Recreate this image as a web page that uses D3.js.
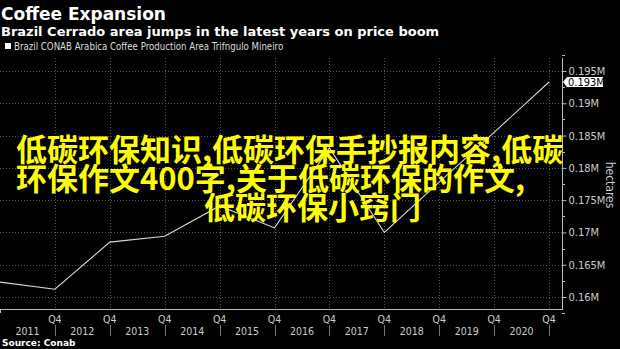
<!DOCTYPE html>
<html><head><meta charset="utf-8">
<script src="https://cdn.jsdelivr.net/npm/d3@7"></script>
<style>
html,body{margin:0;padding:0;background:#000;}
svg{display:block;}
.cond{font-family:"DejaVu Sans Condensed","DejaVu Sans",sans-serif;font-stretch:condensed;}
</style></head>
<body>
<script>
// ---- data ----
const years = [2010, 2011, 2012, 2013, 2014, 2015, 2016, 2017, 2018, 2019, 2020];
const areaValues = [0.1623, 0.1612, 0.1685, 0.1694, 0.1741, 0.1707, 0.1831, 0.1700, 0.1778, 0.1855, 0.1933];
const yTicks = [0.16, 0.165, 0.17, 0.175, 0.18, 0.185, 0.19, 0.195];
const yearLabels = [2011, 2012, 2013, 2014, 2015, 2016, 2017, 2018, 2019, 2020];
const lastLabel = "0.193M";
const title = "Coffee Expansion";
const subtitle = "Brazil Cerrado area jumps in the latest years on price boom";
const legendText = "Brazil CONAB Arabica Coffee Production Area Trifngulo Mineiro";
const source = "Source: Conab";
const overlayLines = ["低碳环保知识,低碳环保手抄报内容,低碳", "环保作文400字,关于低碳环保的作文,", "低碳环保小窍门"];

const W = 620, H = 349;
const plot = {left: 0, right: 562, top: 58, bottom: 309};

const svg = d3.select("body").append("svg").attr("width", W).attr("height", H);
svg.append("rect").attr("width", W).attr("height", H).attr("fill", "#000");

const x = d3.scaleLinear().domain([2010, 2020.236]).range([plot.left, plot.right]);
const y = d3.scaleLinear().domain([0.16, 0.195]).range([297, 71]);

// header
svg.append("text").attr("x", 1).attr("y", 20).text(title)
  .attr("fill", "#fff").attr("font-family", "DejaVu Sans").attr("font-weight", "bold").attr("font-size", 17);
svg.append("text").attr("x", 1).attr("y", 36).text(subtitle)
  .attr("fill", "#fff").attr("font-family", "DejaVu Sans").attr("font-weight", "bold").attr("font-size", 13);
svg.append("rect").attr("x", 5).attr("y", 43).attr("width", 6).attr("height", 6).attr("fill", "#fff");
svg.append("text").attr("class", "cond").attr("x", 14).attr("y", 49.5).text(legendText)
  .attr("fill", "#ddd").attr("font-size", 9.6);

// grid
const grid = svg.append("g");
grid.selectAll("line.h").data(yTicks).join("line")
  .attr("x1", plot.left).attr("x2", plot.right)
  .attr("y1", d => Math.round(y(d)) + 0.5).attr("y2", d => Math.round(y(d)) + 0.5)
  .attr("stroke", "#555").attr("stroke-dasharray", "1,2");
grid.selectAll("line.v").data(yearLabels).join("line")
  .attr("x1", d => Math.round(x(d)) + 0.5).attr("x2", d => Math.round(x(d)) + 0.5)
  .attr("y1", plot.top).attr("y2", plot.bottom)
  .attr("stroke", "#555").attr("stroke-dasharray", "1,2");

// line
svg.append("path")
  .datum(years.map((yr, i) => [yr, areaValues[i]]))
  .attr("d", d3.line().x(d => x(d[0])).y(d => y(d[1])))
  .attr("fill", "none").attr("stroke", "#d9d9d9").attr("stroke-width", 1.1);

// right axis
const yAxis = d3.axisRight(y).tickValues(yTicks).tickSize(4).tickPadding(2)
  .tickFormat(d => d3.format(".3~f")(d) + "M");
const ya = svg.append("g").attr("transform", `translate(${plot.right + 0.5},0)`).call(yAxis);
ya.select(".domain").remove();
ya.selectAll("line").attr("stroke", "#bbb");
ya.selectAll("text").attr("fill", "#ccc").attr("font-size", 11).attr("class", "cond");
// minor ticks
const minor = d3.range(0.1575, 0.1976, 0.0025).filter(v => !yTicks.some(t => Math.abs(t - v) < 1e-6));
svg.append("g").selectAll("line").data(minor).join("line")
  .attr("x1", plot.right).attr("x2", plot.right + 3)
  .attr("y1", d => Math.round(y(d)) + 0.5).attr("y2", d => Math.round(y(d)) + 0.5)
  .attr("stroke", "#bbb");
svg.append("line").attr("x1", plot.right + 0.5).attr("x2", plot.right + 0.5)
  .attr("y1", plot.top).attr("y2", plot.bottom).attr("stroke", "#bbb");

// last value label
const ly = y(areaValues[areaValues.length - 1]);
svg.append("path")
  .attr("d", `M${plot.right + 1},${ly} L${plot.right + 5},${ly - 5} L${plot.right + 41},${ly - 5} L${plot.right + 41},${ly + 5} L${plot.right + 5},${ly + 5} Z`)
  .attr("fill", "#fff");
svg.append("text").attr("class", "cond").attr("x", plot.right + 6).attr("y", ly + 4)
  .text(lastLabel).attr("fill", "#000").attr("font-size", 11);

// axis title
svg.append("text").attr("class", "cond")
  .attr("transform", `translate(606,185) rotate(90)`).attr("text-anchor", "middle")
  .text("hectares").attr("fill", "#ccc").attr("font-size", 12);

// bottom axis
svg.append("line").attr("x1", plot.left).attr("x2", plot.right + 1)
  .attr("y1", plot.bottom + 0.5).attr("y2", plot.bottom + 0.5).attr("stroke", "#bbb");
svg.append("line").attr("x1", 0.5).attr("x2", 0.5).attr("y1", plot.bottom).attr("y2", plot.bottom + 4).attr("stroke", "#bbb");
const xa = svg.append("g");
xa.selectAll("text.q").data(yearLabels).join("text").attr("class", "cond")
  .attr("x", d => x(d)).attr("y", 323).attr("text-anchor", "middle")
  .text("Q4").attr("fill", "#ccc").attr("font-size", 10.5);
xa.selectAll("text.yr").data(yearLabels).join("text").attr("class", "cond")
  .attr("x", d => x(d - 0.5)).attr("y", 335).attr("text-anchor", "middle")
  .text(d => d).attr("fill", "#ccc").attr("font-size", 10.5);
xa.selectAll("line.sep").data(yearLabels).join("line")
  .attr("x1", d => Math.round(x(d)) + 0.5).attr("x2", d => Math.round(x(d)) + 0.5)
  .attr("y1", 325).attr("y2", 336).attr("stroke", "#777");

svg.append("text").attr("x", 2).attr("y", 346).text(source)
  .attr("fill", "#fff").attr("font-family", "DejaVu Sans").attr("font-weight", "bold").attr("font-size", 9);

// overlay text
const ov = svg.append("g").attr("font-family", "Noto Sans CJK SC").attr("font-size", 31)
  .attr("font-weight", 700).attr("fill", "#ffff00");
ov.append("text").attr("x", 16).attr("y", 161).text(overlayLines[0]);
ov.append("text").attr("x", 16).attr("y", 190).text(overlayLines[1]);
ov.append("text").attr("x", 204).attr("y", 219).text(overlayLines[2]);
</script>
</body></html>
